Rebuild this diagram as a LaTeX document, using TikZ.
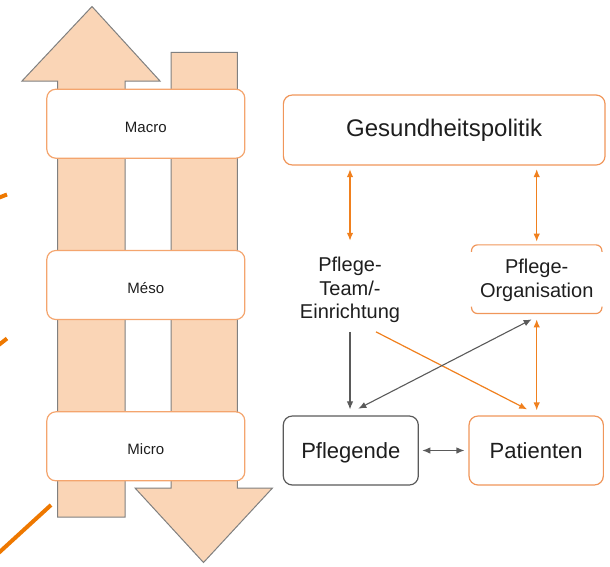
\documentclass[tikz,border=0pt]{standalone}
\usepackage{fontspec}
\setmainfont{Liberation Sans}
\usetikzlibrary{arrows.meta,calc}
\definecolor{peach}{RGB}{250,213,182}
\definecolor{arrowgray}{RGB}{128,128,128}
\definecolor{lightorange}{RGB}{244,165,110}
\definecolor{boxorange}{RGB}{240,150,90}
\definecolor{lineorange}{RGB}{240,128,30}
\definecolor{strongorange}{RGB}{238,120,0}
\definecolor{txt}{RGB}{30,30,30}
\definecolor{grayline}{RGB}{90,90,90}
\tikzset{
  bigarrow/.style={fill=peach, draw=arrowgray, line width=1pt},
  levelbox/.style={draw=lightorange, fill=white, line width=1.2pt, rounded corners=9pt,
     minimum width=198pt, minimum height=69pt, inner sep=0pt, text=txt,
     text height=20pt, text depth=3.2pt,
     font=\fontsize{15}{18}\selectfont},
  rbox/.style={fill=white, line width=1.2pt, rounded corners=9pt, inner sep=0pt, text=txt},
  plain/.style={inner sep=0pt, align=center, text=txt, font=\fontsize{20}{23.5}\selectfont},
  orangearrow/.style={draw=lineorange, line width=1.3pt, {Latex[length=8pt,width=6.5pt]}-{Latex[length=8pt,width=6.5pt]}},
  orangeone/.style={draw=lineorange, line width=1.2pt, -{Latex[length=8pt,width=6.5pt]}},
  blackarrow/.style={draw=grayline, line width=1.1pt, {Latex[length=8pt,width=6.5pt]}-{Latex[length=8pt,width=6.5pt]}},
  blackone/.style={draw=grayline, line width=1.1pt, -{Latex[length=8pt,width=6.5pt]}},
  thickorange/.style={draw=strongorange, line width=4pt}
}
\begin{document}
\begin{tikzpicture}[x=1pt,y=-1pt]
\useasboundingbox (0,0) rectangle (610,566);
% big arrows
\draw[bigarrow] (57.5,517) -- (57.5,81) -- (22,81) -- (92,6.5) -- (160,81) -- (125,81) -- (125,517) -- cycle;
\draw[bigarrow] (171,52.3) -- (237.3,52.3) -- (237.3,488) -- (272.5,488) -- (203.5,562.5) -- (135,488) -- (171,488) -- cycle;
% level boxes
\node[levelbox] (macro) at (145.8,123.7) {Macro};
\node[levelbox] (meso) at (145.8,285) {Méso};
\node[levelbox] (micro) at (145.8,446.3) {Micro};
% orange lines on the left
\draw[thickorange] (-2,198) -- (7,194.5);
\draw[thickorange] (-2,345.5) -- (7,338.5);
\draw[thickorange] (-2,553.5) -- (51,505);
% right side nodes
\node[rbox, draw=boxorange, minimum width=321.7pt, minimum height=70pt,
      font=\fontsize{24}{28}\selectfont] (gp) at (444.2,130) {Gesundheitspolitik};
\node[plain, minimum height=90.7pt] (team) at (350,290.3) {Pflege-\\Team/-\\Einrichtung};
\node[plain, minimum width=130pt, minimum height=68.3pt] (org) at (536.7,280.5) {Pflege-\\Organisation};
\draw[draw=boxorange, line width=1.2pt, rounded corners=6pt]
  ($(org.north west)+(0,5.7)$) -- ($(org.north west)+(0,-1.3)$) -- ($(org.north east)+(0,-1.3)$) -- ($(org.north east)+(0,5.7)$);
\draw[draw=boxorange, line width=1.2pt, rounded corners=6pt]
  ($(org.south west)+(0,-8.3)$) -- ($(org.south west)+(0,-1.3)$) -- ($(org.south east)+(0,-1.3)$) -- ($(org.south east)+(0,-8.3)$);
\node[rbox, draw=grayline, minimum width=135pt, minimum height=69pt,
      text height=25pt, text depth=8.5pt,
      font=\fontsize{22}{26}\selectfont] (pfl) at (350.8,450.5) {Pflegende};
\node[rbox, draw=boxorange, minimum width=134.3pt, minimum height=69pt,
      text height=25pt, text depth=8.5pt,
      font=\fontsize{22}{26}\selectfont] (pat) at (536.2,450.5) {Patienten};
% connectors
\draw[orangearrow, shorten <=3.5pt] (gp.south -| team.north) -- ($(team.north)+(0,-4)$);
\draw[orangearrow, shorten <=3.5pt] (gp.south -| org.north) -- ($(org.north)+(0,-4.5)$);
\draw[blackone, shorten >=6pt] ($(team.south)+(0,-4)$) -- (team.south |- pfl.north);
\draw[orangeone] ($(team.south)+(26,-4)$) -- ($(pat.north)+(-9,-6)$);
\draw[blackarrow] ($(pfl.north)+(7.5,-6.7)$) -- ($(org.south)+(-5,4.5)$);
\draw[orangearrow, shorten >=5pt] ($(org.south)+(0,4.5)$) -- (org.south |- pat.north);
\draw[blackarrow, shorten <=3.4pt, shorten >=4pt] (pfl.east) -- (pat.west);
\end{tikzpicture}
\end{document}
